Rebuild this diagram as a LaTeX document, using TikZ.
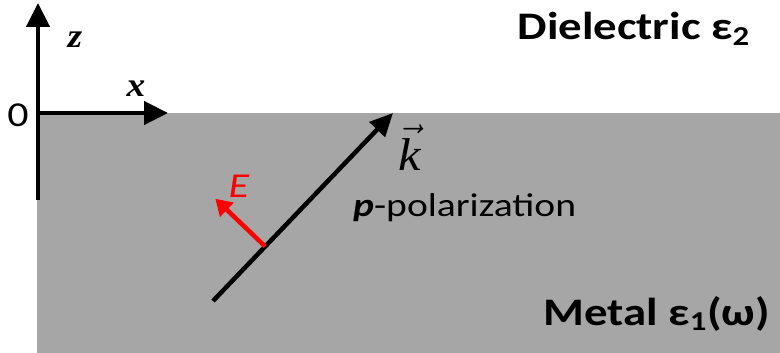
\documentclass[tikz,border=0pt]{standalone}
\usepackage{fix-cm}
\usepackage{fontspec}
\setmainfont{Carlito}[FakeStretch=1.2]
\newfontfamily\axisfont{Liberation Serif}[FakeStretch=1.1]
\usetikzlibrary{arrows.meta,calc,positioning}
\definecolor{metalgray}{RGB}{166,166,166}
\definecolor{fieldred}{RGB}{255,0,0}
\tikzset{
  axis arrow/.style={-{Triangle[length=24pt,width=23pt]},line width=4.5pt},
  wave arrow/.style={-{Triangle[length=23pt,width=21pt]},line width=4.5pt},
  field arrow/.style={-{Triangle[length=16pt,width=19pt]},line width=4.5pt,fieldred},
  axis label/.style={anchor=base,inner sep=0pt,font=\axisfont\bfseries\itshape\fontsize{34}{36}\selectfont},
  medium label/.style={anchor=base east,inner sep=0pt,font=\bfseries\fontsize{39}{41}\selectfont},
}
\begin{document}
\begin{tikzpicture}[x=1pt,y=-1pt]
  \useasboundingbox (0,0) rectangle (780,353);
  % metal half space
  \fill[metalgray] (37,113) rectangle (780,353);
  % axes
  \coordinate (o) at (38,113);
  \coordinate (zbot) at (38,200);
  \coordinate (ztip) at (38,3);
  \coordinate (xtip) at (168,113);
  \draw[axis arrow] (zbot) -- (ztip);
  \draw[axis arrow] ([xshift=-2pt]o) -- (xtip);
  \node[axis label] (zlab) at (75,48) {z};
  \node[axis label] (xlab) at (136,97) {x};
  \node[anchor=base,inner sep=0pt,font=\fontsize{35}{37}\selectfont] (zero) at (18,126) {0};
  % wave vector and field
  \coordinate (k0) at (213,301);
  \coordinate (k1) at (393,113);
  \draw[wave arrow] (k0) -- (k1);
  \coordinate (e0) at ($(k0)!0.29!(k1)$);
  \coordinate (e1) at ($(e0)!69pt!90:(k1)$);
  \draw[field arrow] (e0) -- (e1);
  \node[anchor=base,inner sep=0pt,text=fieldred,font=\itshape\fontsize{35}{37}\selectfont] (elab) at (239,197) {E};
  \node[anchor=base,inner sep=0pt,font=\fontsize{46}{48}\selectfont] (klab) at (410,170) {$\vec{\mbox{\axisfont\itshape k}}$};
  \node[anchor=base west,inner sep=0pt,font=\fontsize{33}{35}\selectfont] (pol) at (353,216) {\textbf{\textit{p}}-polarization};
  % media
  \node[medium label] (diel) at (750,40) {Dielectric ε\textsubscript{2}};
  \node[medium label] (metal) at (770,325) {Metal ε\textsubscript{1}(ω)};
\end{tikzpicture}
\end{document}
